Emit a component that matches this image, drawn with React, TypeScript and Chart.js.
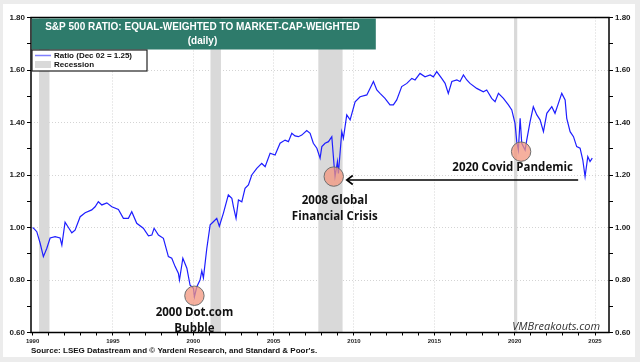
import React, { useEffect, useRef } from "react";
import { Chart, registerables } from "chart.js";

Chart.register(...registerables);

// ---- Data ----
const DATES: number[] = [
  1990.0, 1990.1, 1990.26, 1990.47, 1990.67, 1990.88, 1991.09, 1991.4, 1991.71, 1991.82,
  1992.02, 1992.23, 1992.44, 1992.64, 1992.96, 1993.27, 1993.68, 1993.89, 1994.09, 1994.31,
  1994.62, 1994.93, 1995.34, 1995.65, 1995.96, 1996.17, 1996.48, 1996.89, 1997.21, 1997.42,
  1997.56, 1997.83, 1998.14, 1998.45, 1998.66, 1998.87, 1999.07, 1999.14, 1999.35, 1999.6,
  1999.8, 2000.01, 2000.07, 2000.22, 2000.42, 2000.53, 2000.63, 2000.84, 2001.05, 2001.25,
  2001.46, 2001.62, 2001.87, 2002.18, 2002.4, 2002.5, 2002.66, 2002.81, 2003.02, 2003.22,
  2003.43, 2003.64, 2003.95, 2004.26, 2004.47, 2004.78, 2005.09, 2005.4, 2005.71, 2005.92,
  2006.13, 2006.33, 2006.54, 2006.75, 2007.06, 2007.27, 2007.47, 2007.69, 2007.89, 2008.0,
  2008.2, 2008.41, 2008.62, 2008.76, 2008.82, 2008.97, 2009.03, 2009.24, 2009.34, 2009.55,
  2009.76, 2010.07, 2010.38, 2010.8, 2011.21, 2011.42, 2011.62, 2011.93, 2012.24, 2012.45,
  2012.66, 2012.97, 2013.29, 2013.6, 2013.8, 2014.11, 2014.42, 2014.74, 2014.94, 2015.15,
  2015.46, 2015.67, 2015.87, 2016.09, 2016.4, 2016.6, 2016.81, 2017.02, 2017.22, 2017.64,
  2018.05, 2018.26, 2018.57, 2018.78, 2018.99, 2019.3, 2019.61, 2019.82, 2020.02, 2020.13,
  2020.23, 2020.34, 2020.44, 2020.65, 2020.75, 2020.96, 2021.16, 2021.38, 2021.58, 2021.79,
  2022.0, 2022.31, 2022.51, 2022.72, 2022.93, 2023.14, 2023.24, 2023.45, 2023.66, 2023.86,
  2024.07, 2024.24, 2024.38, 2024.55, 2024.69, 2024.83,
];
const RATIO: number[] = [
  1.0, 0.995, 0.984, 0.94, 0.889, 0.92, 0.96, 0.965, 0.96, 0.933,
  1.02, 1.0, 0.98, 0.99, 1.041, 1.056, 1.067, 1.079, 1.098, 1.086,
  1.094, 1.079, 1.069, 1.035, 1.035, 1.06, 1.016, 0.997, 0.968, 0.971,
  0.997, 0.971, 0.959, 0.889, 0.883, 0.851, 0.826, 0.8, 0.883, 0.845,
  0.78, 0.768, 0.736, 0.774, 0.8, 0.835, 0.808, 0.92, 1.01, 1.022,
  1.035, 1.005, 1.054, 1.124, 1.111, 1.079, 1.035, 1.105, 1.098, 1.149,
  1.162, 1.2, 1.225, 1.244, 1.232, 1.283, 1.276, 1.321, 1.333, 1.327,
  1.359, 1.349, 1.346, 1.352, 1.369, 1.359, 1.321, 1.302, 1.264, 1.308,
  1.321, 1.327, 1.346, 1.238, 1.195, 1.251, 1.206, 1.365, 1.34, 1.429,
  1.41, 1.479, 1.498, 1.505, 1.556, 1.524, 1.511, 1.492, 1.467, 1.467,
  1.486, 1.537, 1.549, 1.568, 1.562, 1.587, 1.574, 1.581, 1.574, 1.594,
  1.568, 1.549, 1.511, 1.556, 1.562, 1.556, 1.581, 1.562, 1.549, 1.53,
  1.517, 1.524, 1.492, 1.479, 1.511, 1.492, 1.467, 1.448, 1.397, 1.327,
  1.295, 1.416, 1.321, 1.295, 1.333, 1.403, 1.46, 1.429, 1.41, 1.365,
  1.435, 1.46, 1.435, 1.473, 1.511, 1.486, 1.416, 1.365, 1.346, 1.308,
  1.302, 1.257, 1.194, 1.27, 1.251, 1.264,
];

const RECESSION_START: number[] = [1990.4, 2001.07, 2007.78, 2019.96];
const RECESSION_END: number[] = [1991.05, 2001.72, 2009.29, 2020.16];

const X_TICKS: number[] = [
  1990, 1991, 1992, 1993, 1994, 1995, 1996, 1997, 1998, 1999, 2000, 2001, 2002, 2003, 2004,
  2005, 2006, 2007, 2008, 2009, 2010, 2011, 2012, 2013, 2014, 2015, 2016, 2017, 2018, 2019,
  2020, 2021, 2022, 2023, 2024, 2025,
];
const Y_TICKS: number[] = [0.6, 0.7, 0.8, 0.9, 1.0, 1.1, 1.2, 1.3, 1.4, 1.5, 1.6, 1.7, 1.8];

// Annotations: event markers (x year, y value) and their captions
const EVENT_YEARS: number[] = [2000.07, 2008.74, 2020.4];
const EVENT_VALUES: number[] = [0.74, 1.194, 1.289];
const EVENT_LABELS: string[][] = [
  ["2000 Dot.com", "Bubble"],
  ["2008 Global", "Financial Crisis"],
  ["2020 Covid Pandemic"],
];
const ARROW_FROM: [number, number] = [2023.95, 1.181];
const ARROW_TO: [number, number] = [2009.55, 1.181];

const TITLE_1 = "S&P 500 RATIO: EQUAL-WEIGHTED TO MARKET-CAP-WEIGHTED";
const TITLE_2 = "(daily)";
const LEGEND_LINE = "Ratio (Dec 02 = 1.25)";
const LEGEND_REC = "Recession";
const SOURCE = "Source: LSEG Datastream and \u00A9 Yardeni Research, and Standard & Poor's.";
const WATERMARK = "VMBreakouts.com";

const X_MIN = 1989.9;
const X_MAX = 2025.87;

const isMajorY = (v: number) => Math.round(v * 10) % 2 === 0;

const decorPlugin = {
  id: "decor",
  beforeDraw(chart: any) {
    const { ctx, width, height } = chart;
    ctx.save();
    ctx.fillStyle = "#ececec";
    ctx.fillRect(0, 0, width, height);
    ctx.fillStyle = "#ffffff";
    ctx.fillRect(3, 4, 632, 353);
    ctx.restore();
  },
  beforeDatasetsDraw(chart: any) {
    const { ctx, chartArea, scales } = chart;
    const xs = scales.x;
    ctx.save();
    ctx.fillStyle = "#d9d9d9";
    for (let i = 0; i < RECESSION_START.length; i++) {
      const a = xs.getPixelForValue(RECESSION_START[i]);
      const b = xs.getPixelForValue(RECESSION_END[i]);
      ctx.fillRect(a, chartArea.top, b - a, chartArea.bottom - chartArea.top);
    }
    ctx.restore();
  },
  afterDatasetsDraw(chart: any) {
    const { ctx, chartArea, scales } = chart;
    const xs = scales.x;
    const ys = scales.y;
    const { left, right, top, bottom } = chartArea;
    ctx.save();

    // event circles
    for (let i = 0; i < EVENT_YEARS.length; i++) {
      const cx = xs.getPixelForValue(EVENT_YEARS[i]);
      const cy = ys.getPixelForValue(EVENT_VALUES[i]);
      ctx.beginPath();
      ctx.arc(cx, cy, 9.7, 0, Math.PI * 2);
      ctx.fillStyle = "rgba(243,150,125,0.75)";
      ctx.fill();
      ctx.lineWidth = 1;
      ctx.strokeStyle = "#6f6f6f";
      ctx.stroke();
    }

    // captions
    ctx.fillStyle = "#111";
    ctx.font = "bold 11.5px 'Open Sans'";
    ctx.textAlign = "center";
    ctx.textBaseline = "middle";
    const capOffsets = [
      [0, 16.5, 16],
      [1, 24.5, 16],
      [-8.5, 16.5, 16],
    ];
    for (let i = 0; i < EVENT_LABELS.length; i++) {
      const cx = xs.getPixelForValue(EVENT_YEARS[i]) + capOffsets[i][0];
      const cy = ys.getPixelForValue(EVENT_VALUES[i]) + capOffsets[i][1];
      EVENT_LABELS[i].forEach((t, j) => ctx.fillText(t, cx, cy + j * capOffsets[i][2]));
    }

    // arrow
    const ax1 = xs.getPixelForValue(ARROW_FROM[0]);
    const ay1 = ys.getPixelForValue(ARROW_FROM[1]);
    const ax2 = xs.getPixelForValue(ARROW_TO[0]);
    const ay2 = ys.getPixelForValue(ARROW_TO[1]);
    ctx.strokeStyle = "#000";
    ctx.lineWidth = 1.6;
    ctx.beginPath();
    ctx.moveTo(ax1, ay1);
    ctx.lineTo(ax2 + 1, ay2);
    ctx.stroke();
    ctx.beginPath();
    ctx.moveTo(ax2 + 6, ay2 - 4.5);
    ctx.lineTo(ax2, ay2);
    ctx.lineTo(ax2 + 6, ay2 + 4.5);
    ctx.stroke();

    // frame
    ctx.strokeStyle = "#000";
    ctx.lineWidth = 1.5;
    ctx.strokeRect(left, top, right - left, bottom - top);

    // title box
    ctx.fillStyle = "#2e7b6b";
    ctx.fillRect(left + 0.8, top + 1, 344, 31);
    ctx.fillStyle = "#ffffff";
    ctx.font = "bold 10px 'Liberation Sans', Arial";
    ctx.textAlign = "center";
    ctx.fillText(TITLE_1, left + 171.5, top + 10);
    ctx.fillText(TITLE_2, left + 171.5, top + 24);

    // legend
    const lx = left + 1;
    const ly = top + 32.5;
    ctx.fillStyle = "#ffffff";
    ctx.fillRect(lx, ly, 115, 21);
    ctx.strokeStyle = "#222";
    ctx.lineWidth = 1.2;
    ctx.strokeRect(lx, ly, 115, 21);
    ctx.strokeStyle = "#7f7fff";
    ctx.lineWidth = 1.5;
    ctx.beginPath();
    ctx.moveTo(lx + 3, ly + 5.5);
    ctx.lineTo(lx + 19, ly + 5.5);
    ctx.stroke();
    ctx.fillStyle = "#d9d9d9";
    ctx.fillRect(lx + 3, ly + 11, 16, 7);
    ctx.fillStyle = "#111";
    ctx.font = "bold 8px 'Liberation Sans', Arial";
    ctx.textAlign = "left";
    ctx.fillText(LEGEND_LINE, lx + 22, ly + 5.8);
    ctx.fillText(LEGEND_REC, lx + 22, ly + 14.5);

    // watermark
    ctx.fillStyle = "#333";
    ctx.font = "italic 11px 'Open Sans'";
    ctx.textAlign = "right";
    ctx.fillText(WATERMARK, right - 9, bottom - 6);

    // source
    ctx.fillStyle = "#111";
    ctx.font = "bold 8px 'Liberation Sans', Arial";
    ctx.textAlign = "left";
    ctx.fillText(SOURCE, 31, 351);

    ctx.restore();
  },
};

export default function App() {
  const ref = useRef<HTMLCanvasElement | null>(null);
  useEffect(() => {
    document.body.style.margin = "0";
    const canvas = ref.current;
    if (!canvas) return;
    const points = DATES.map((d, i) => ({ x: d, y: RATIO[i] }));
    const yScaleBase = (pos: "left" | "right") => ({
      type: "linear" as const,
      position: pos,
      min: 0.6,
      max: 1.8,
      afterBuildTicks: (scale: any) => {
        scale.ticks = Y_TICKS.map((v) => ({ value: v }));
      },
      afterFit: (scale: any) => {
        scale.width = 31;
      },
      ticks: {
        autoSkip: false,
        padding: 2,
        color: "#222",
        font: { family: "'Liberation Sans', Arial", size: 8, weight: "bold" as const },
        callback: (v: any) => (isMajorY(Number(v)) ? Number(v).toFixed(2) : ""),
      },
      grid: {
        drawOnChartArea: pos === "left",
        color: (c: any) => (c.tick && isMajorY(c.tick.value) ? "#d4d4d4" : "rgba(0,0,0,0)"),
        tickColor: "#000",
        tickLength: 4,
        tickBorderDash: [],
        lineWidth: 1,
      },
      border: { display: false, dash: [1, 2] },
    });
    const chart = new Chart(canvas, {
      type: "line",
      data: {
        datasets: [
          {
            label: LEGEND_LINE,
            data: points,
            borderColor: "#1e1eff",
            borderWidth: 1.2,
            pointRadius: 0,
            tension: 0,
            fill: false,
          },
        ],
      },
      options: {
        responsive: false,
        animation: false,
        parsing: true,
        layout: { padding: { top: 17.5, left: 0, right: 0, bottom: 0 } },
        plugins: { legend: { display: false }, tooltip: { enabled: false }, title: { display: false } },
        scales: {
          x: {
            type: "linear",
            min: X_MIN,
            max: X_MAX,
            afterBuildTicks: (scale: any) => {
              scale.ticks = X_TICKS.map((v) => ({ value: v }));
            },
            afterFit: (scale: any) => {
              scale.height = 29.5;
            },
            ticks: {
              autoSkip: false,
              maxRotation: 0,
              padding: 2,
              color: "#222",
              font: { family: "'Liberation Sans', Arial", size: 6, weight: "bold" },
              callback: (v: any) => (Number(v) % 5 === 0 ? String(v) : ""),
            },
            grid: {
              color: (c: any) =>
                c.tick && c.tick.value % 5 === 0 && c.tick.value !== 1990 ? "#d4d4d4" : "rgba(0,0,0,0)",
              tickColor: "#000",
              tickLength: 3,
              tickBorderDash: [],
              lineWidth: 1,
            },
            border: { display: false, dash: [1, 2] },
          },
          y: yScaleBase("left") as any,
          y2: yScaleBase("right") as any,
        },
      },
      plugins: [decorPlugin],
    });
    return () => chart.destroy();
  }, []);
  return (
    <div style={{ position: "fixed", left: 0, top: 0, width: 640, height: 362 }}>
      <canvas ref={ref} width={640} height={362} style={{ width: 640, height: 362 }} />
    </div>
  );
}
